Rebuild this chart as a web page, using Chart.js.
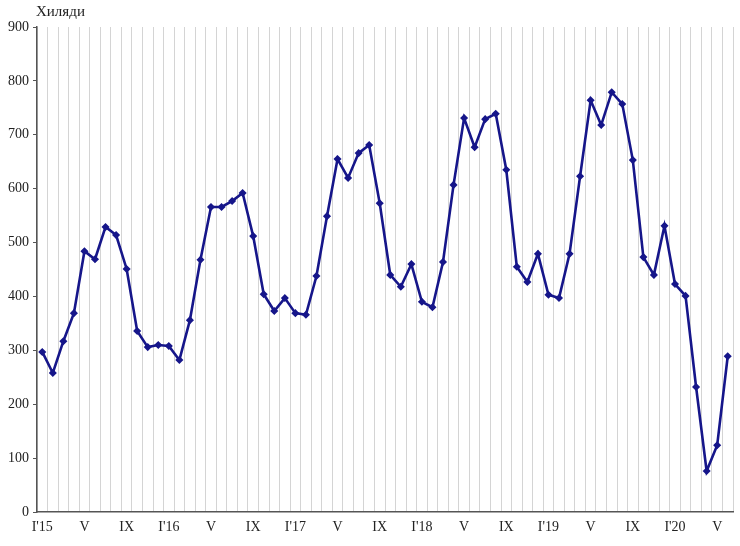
<!DOCTYPE html>
<html><head><meta charset="utf-8">
<script src="https://cdn.jsdelivr.net/npm/chart.js@4.4.1/dist/chart.umd.min.js"></script>
<style>html,body{margin:0;padding:0;background:#fff}#wrap{width:740px;height:546px}</style>
</head><body><div id="wrap"><canvas id="c" width="740" height="546"></canvas></div>
<script>
const unitLabel = "Хиляди";
const categories = [
 "I'15","II","III","IV","V","VI","VII","VIII","IX","X","XI","XII",
 "I'16","II","III","IV","V","VI","VII","VIII","IX","X","XI","XII",
 "I'17","II","III","IV","V","VI","VII","VIII","IX","X","XI","XII",
 "I'18","II","III","IV","V","VI","VII","VIII","IX","X","XI","XII",
 "I'19","II","III","IV","V","VI","VII","VIII","IX","X","XI","XII",
 "I'20","II","III","IV","V","VI"
];
const values = [
 297,258,317,369,484,469,529,514,451,336,306,310,
 308,282,356,468,566,566,577,592,512,404,373,397,
 369,366,438,549,655,620,666,681,573,440,418,460,
 390,380,464,607,731,677,729,739,635,455,427,479,
 403,397,479,623,764,718,779,757,653,473,440,531,
 423,401,232,76,124,289
];
const yTicks = [0,100,200,300,400,500,600,700,800,900];

const titlePlugin = {
  id: 'unitTitle',
  afterDraw(chart) {
    const ctx = chart.ctx;
    ctx.save();
    ctx.font = '15px "Liberation Serif"';
    ctx.fillStyle = '#222';
    ctx.textBaseline = 'middle';
    ctx.textAlign = 'left';
    ctx.fillText(unitLabel, 36, 12);
    ctx.restore();
  }
};

new Chart(document.getElementById('c'), {
  type: 'line',
  data: {
    labels: categories,
    datasets: [{
      data: values,
      borderColor: '#16168a',
      backgroundColor: '#16168a',
      borderWidth: 2.6,
      pointStyle: 'rectRot',
      pointRadius: 2.2,
      pointHoverRadius: 2.2,
      tension: 0
    }]
  },
  options: {
    responsive: false,
    animation: false,
    events: [],
    layout: { padding: { top: 27, right: 7, left: 0, bottom: 0 } },
    plugins: { legend: { display: false }, tooltip: { enabled: false } },
    scales: {
      x: {
        type: 'category',
        offset: true,
        grid: { offset: true, color: '#d4d4d4', lineWidth: 1, drawTicks: false },
        border: { color: '#555', width: 1.5 },
        ticks: {
          autoSkip: false, maxRotation: 0, padding: 7,
          color: '#222', font: { family: '"Liberation Serif"', size: 14 },
          callback: (v, i) => (i % 4 === 0 ? categories[i] : '')
        },
        afterFit: s => { s.height = 34; }
      },
      y: {
        min: 0, max: 900,
        afterBuildTicks: s => { s.ticks = yTicks.map(v => ({ value: v })); },
        grid: { drawOnChartArea: false, drawTicks: true, tickLength: 4, color: '#555' },
        border: { color: '#555', width: 1.5 },
        ticks: { padding: 4, color: '#222', font: { family: '"Liberation Serif"', size: 14 } },
        afterFit: s => { s.width = 37; }
      }
    }
  },
  plugins: [titlePlugin]
});
</script></body></html>
